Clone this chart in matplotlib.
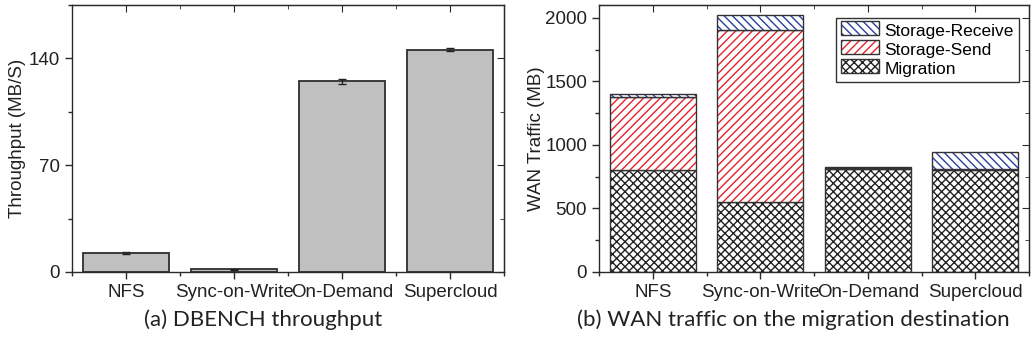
import matplotlib.pyplot as plt
from matplotlib.ticker import MultipleLocator, FixedLocator, NullFormatter
from matplotlib.legend_handler import HandlerBase

# Data
systems = ["NFS", "Sync-on-Write", "On-Demand", "Supercloud"]
throughput = [12.2, 1.8, 125.0, 145.8]
throughput_err = [0.6, 0.4, 1.6, 0.8]

migration = [800, 548, 810, 802]
storage_send = [574, 1352, 8, 10]
storage_receive = [26, 118, 10, 134]

plt.rcParams['font.family'] = ['Liberation Sans', 'DejaVu Sans']
plt.rcParams['hatch.linewidth'] = 1.0

edge = '#2a2a2a'
tick_fs = 13.5

fig = plt.figure(figsize=(10.33, 3.52), dpi=100)
ax1 = fig.add_axes([72 / 1033, 1 - 272 / 352, 432 / 1033, 267 / 352])
ax2 = fig.add_axes([599 / 1033, 1 - 272 / 352, 430 / 1033, 267 / 352])

x = list(range(1, len(systems) + 1))
bounds = [0.5, 1.5, 2.5, 3.5, 4.5]


def style_axes(ax, ymax, major, minor):
    ax.set_xlim(0.5, 4.5)
    ax.set_ylim(0, ymax)
    ax.set_xticks(x)
    ax.set_xticklabels(systems, fontsize=tick_fs)
    ax.xaxis.set_minor_locator(FixedLocator(bounds))
    ax.yaxis.set_major_locator(MultipleLocator(major))
    ax.yaxis.set_minor_locator(MultipleLocator(minor))
    ax.tick_params(which='major', length=5, width=1, colors=edge, labelcolor='#222222',
                   labelsize=tick_fs, direction='out')
    ax.tick_params(which='minor', length=3, width=1, colors=edge, direction='out')
    for s in ax.spines.values():
        s.set_color(edge)
        s.set_linewidth(1)
    # mirrored ticks on top and right, pointing inward
    top = ax.secondary_xaxis('top')
    top.set_xticks(x)
    top.xaxis.set_minor_locator(FixedLocator(bounds))
    top.xaxis.set_major_formatter(NullFormatter())
    top.tick_params(which='major', length=5, direction='in', colors=edge)
    top.tick_params(which='minor', length=3, direction='in', colors=edge)
    right = ax.secondary_yaxis('right')
    right.yaxis.set_major_locator(MultipleLocator(major))
    right.yaxis.set_minor_locator(MultipleLocator(minor))
    right.yaxis.set_major_formatter(NullFormatter())
    right.tick_params(which='major', length=5, direction='in', colors=edge)
    right.tick_params(which='minor', length=3, direction='in', colors=edge)


# (a) throughput
ax1.bar(x, throughput, width=0.8, color='#c0c0c0', edgecolor='#2e2e2e', linewidth=1.3,
        yerr=throughput_err, capsize=3, error_kw=dict(ecolor='#222222', elinewidth=1, capthick=1))
style_axes(ax1, 175, 70, 35)
ax1.set_ylabel('Throughput (MB/S)', fontsize=tick_fs, color='#222222', labelpad=2)

# (b) WAN traffic
bottom_send = migration
bottom_recv = [m + s for m, s in zip(migration, storage_send)]
series = [
    (migration, [0] * 4, 'xxxx', '#222222', 'Migration'),
    (storage_send, bottom_send, '////', '#e8202a', 'Storage-Send'),
    (storage_receive, bottom_recv, '\\\\\\\\', '#2a3f9d', 'Storage-Receive'),
]
handles = []
for vals, bot, hatch, col, label in series:
    ax2.bar(x, vals, width=0.8, bottom=bot, color='white', edgecolor=col, hatch=hatch, linewidth=0)
    ax2.bar(x, vals, width=0.8, bottom=bot, fill=False, edgecolor='#333333', linewidth=1)
    h = plt.Rectangle((0, 0), 1, 1, facecolor='white', edgecolor=col, hatch=hatch, linewidth=0)
    handles.append((h, label))

style_axes(ax2, 2100, 500, 250)
ax2.set_ylabel('WAN Traffic (MB)', fontsize=tick_fs, color='#222222', labelpad=0)


class HatchHandler(HandlerBase):
    def create_artists(self, legend, orig, xd, yd, w, h, fs, trans):
        r1 = plt.Rectangle((xd, yd), w, h, facecolor='white', edgecolor=orig.get_edgecolor(),
                           hatch=orig.get_hatch(), linewidth=0, transform=trans)
        r2 = plt.Rectangle((xd, yd), w, h, fill=False, edgecolor='#333333', linewidth=1,
                           transform=trans)
        return [r1, r2]


hs = [h for h, _ in handles][::-1]
ls = [l for _, l in handles][::-1]
leg = ax2.legend(hs, ls, loc='upper right', bbox_to_anchor=(0.977, 0.952), fontsize=12.5,
                 frameon=True, fancybox=False, edgecolor='#333333', framealpha=1,
                 handlelength=2.2, handleheight=0.85, labelspacing=0.18, borderpad=0.3,
                 handletextpad=0.3, borderaxespad=0,
                 handler_map={plt.Rectangle: HatchHandler()})
leg.get_frame().set_linewidth(1)

# captions
cap_font = ['Lato', 'DejaVu Sans']
fig.text(263 / 1033, 1 - 320 / 352, '(a) DBENCH throughput', ha='center', va='center',
         fontsize=16, family=cap_font, color='#222222')
fig.text(793 / 1033, 1 - 320 / 352, '(b) WAN traffic on the migration destination', ha='center',
         va='center', fontsize=16, family=cap_font, color='#222222')

fig.savefig('out.png', dpi=100)
